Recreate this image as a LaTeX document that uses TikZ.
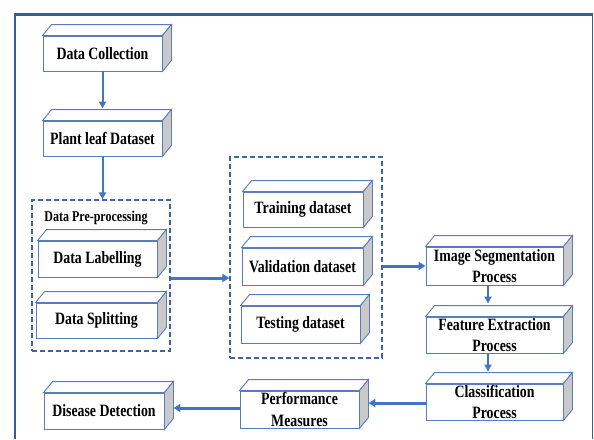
\documentclass[tikz,border=0pt]{standalone}
\usepackage{fontspec}
\setmainfont{Liberation Serif}[FakeStretch=0.8]
\usetikzlibrary{arrows.meta}
\definecolor{framec}{HTML}{3B5A9A}
\definecolor{boxc}{HTML}{5B7BC0}
\definecolor{arrc}{HTML}{4472C4}
\definecolor{dashc}{HTML}{3D64A8}
\definecolor{sidegray}{HTML}{C9C9C9}
\tikzset{
  box/.style={draw=boxc, fill=white, line width=0.9pt, inner sep=0pt},
  txt/.style={font=\fontsize{17.3}{21.5}\selectfont\bfseries, align=center, inner sep=0pt},
  grp/.style={draw=dashc, line width=1.2pt, dash pattern=on 5pt off 3pt, inner sep=0pt},
  arr/.style={draw=arrc, line width=2pt, -{Triangle[length=7pt,width=7pt]}},
  harr/.style={draw=arrc, line width=3pt, -{Triangle[length=7pt,width=8pt]}},
}
\newcommand\cubefaces[1]{%
  \draw[draw=boxc, line width=0.9pt, fill=white] (#1.north west) -- ++(9,-11) -- ([shift={(9,-11)}]#1.north east) -- (#1.north east) -- cycle;
  \draw[draw=boxc, line width=0.9pt, fill=sidegray] (#1.north east) -- ++(9,-11) -- ([shift={(9,-11)}]#1.south east) -- (#1.south east) -- cycle;}
\newcommand\cube[5]{% name, center, width, height, text
  \node[box, minimum width=#3pt, minimum height=#4pt] (#1) at #2 {};
  \cubefaces{#1}
  \node[txt] (#1-t) at (#1.center) {#5};}
\begin{document}
\begin{tikzpicture}[x=1pt,y=-1pt]
\useasboundingbox (0,0) rectangle (594,439);
% frame
\draw[framec, line width=2pt] (14.5,439) -- (14.5,14.5);
\draw[framec, line width=1.4pt] (592.5,14.5) -- (592.5,439);
\draw[framec, line width=2.6pt] (13.5,14.5) -- (593.2,14.5);
% dashed groups
\node[grp, minimum width=138pt, minimum height=151pt] (pre) at (101,275.5) {};
\node[grp, minimum width=152pt, minimum height=201pt] (ds) at (306,257.5) {};
\node[font=\fontsize{15}{18}\selectfont\bfseries, inner sep=0pt] (pret) at (96,218) {Data Pre-processing};
% boxes
\cube{dc}{(102.5,53.5)}{119}{35}{Data Collection}
\cube{pl}{(102.5,138.5)}{119}{35}{Plant leaf Dataset}
\cube{lab}{(97.5,259)}{119}{36}{Data Labelling}
\cube{spl}{(96.5,320.5)}{121}{35}{Data Splitting}
\cube{tr}{(303,209.5)}{120}{35}{Training dataset}
\cube{va}{(302.5,266.5)}{121}{37}{Validation dataset}
\cube{te}{(300.5,324.5)}{119}{37}{Testing dataset}
\cube{seg}{(494.5,266)}{137}{38}{Image Segmentation\\Process}
\cube{fe}{(494.5,335)}{137}{36}{Feature Extraction\\Process}
\cube{cl}{(494.5,402)}{137}{36}{Classification\\Process}
\cube{pm}{(299.5,409.5)}{119}{37}{Performance\\Measures}
\cube{dd}{(104,411)}{120}{36}{Disease Detection}
% arrows
\draw[arr] (dc.south) -- ([yshift=12pt]pl.north);
\draw[arr] (pl.south) -- (pl.south |- pre.north);
\draw[harr] ([yshift=-2.5pt]pre.east) -- ([yshift=-2.5pt]pre.east -| ds.west);
\draw[harr] (ds.east |- seg.west) -- (seg.west);
\draw[arr] ([xshift=-6.5pt]seg.south) -- ([xshift=-6.5pt,yshift=13pt]fe.north);
\draw[arr] ([xshift=-6.5pt]fe.south) -- ([xshift=-6.5pt,yshift=12pt]cl.north);
\draw[harr] ([yshift=-1pt]cl.west) -- ([xshift=9pt,yshift=-1pt]cl.west -| pm.east);
\draw[harr] ([yshift=1.5pt]pm.west) -- ([xshift=9pt,yshift=1.5pt]pm.west -| dd.east);
\end{tikzpicture}
\end{document}
